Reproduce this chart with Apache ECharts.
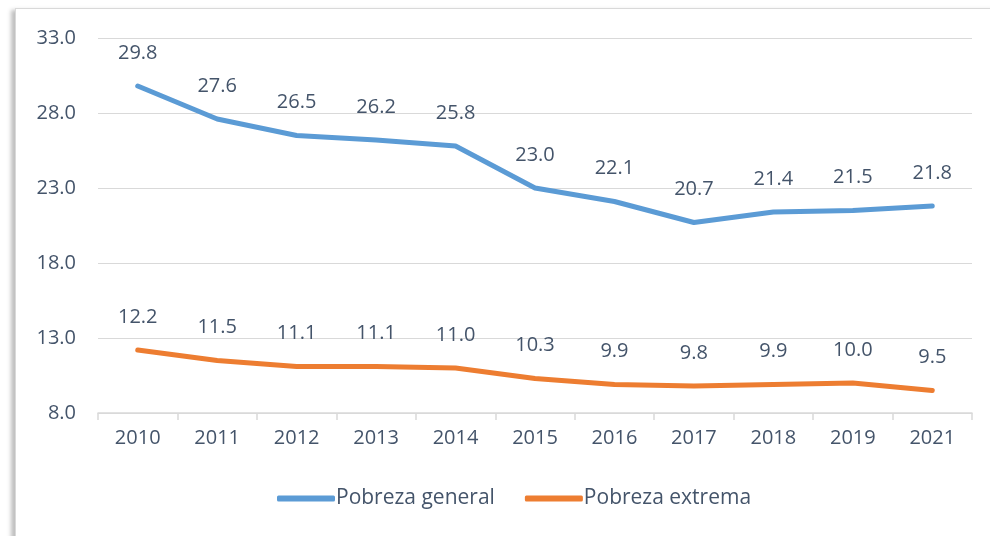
<!DOCTYPE html>
<html>
<head>
<meta charset="utf-8">
<script src="https://cdn.jsdelivr.net/npm/echarts@6/dist/echarts.min.js"></script>
<style>
  html, body { margin: 0; padding: 0; background: #fff; }
  #frame {
    position: absolute; left: 15px; top: 8px; width: 985px; height: 540px;
    border: 1px solid #d9d9d9; box-shadow: -4px 2px 4px rgba(0,0,0,0.25);
    box-sizing: border-box;
  }
  #chart { position: absolute; left: 0; top: 0; width: 990px; height: 536px; }
</style>
</head>
<body>
<div id="frame"></div>
<div id="chart"></div>
<script>
const years = ['2010', '2011', '2012', '2013', '2014', '2015', '2016', '2017', '2018', '2019', '2021'];
const pobrezaGeneral = [29.8, 27.6, 26.5, 26.2, 25.8, 23.0, 22.1, 20.7, 21.4, 21.5, 21.8];
const pobrezaExtrema = [12.2, 11.5, 11.1, 11.1, 11.0, 10.3, 9.9, 9.8, 9.9, 10.0, 9.5];

const textColor = '#44546a';
const font = '"Open Sans", "Noto Sans", sans-serif';
const fontSize = 20;

const chart = echarts.init(document.getElementById('chart'));

const labelStyle = {
  show: true,
  position: 'top',
  distance: 23,
  color: textColor,
  fontSize: fontSize,
  fontFamily: font,
  formatter: (p) => p.value.toFixed(1),
};

const option = {
  animation: false,
  grid: { left: 98, right: 18, top: 38, bottom: 123 },
  legend: {
    bottom: 22,
    left: 272,
    itemWidth: 58,
    itemHeight: 6,
    itemGap: 30,
    icon: 'roundRect',
    textStyle: { color: textColor, fontSize: 21, fontFamily: font, padding: [0, 0, 0, -4] },
    data: ['Pobreza general', 'Pobreza extrema'],
  },
  xAxis: {
    type: 'category',
    data: years,
    boundaryGap: true,
    axisLine: { lineStyle: { color: '#d9d9d9', width: 1.5 } },
    axisTick: { show: true, length: 7, lineStyle: { color: '#d9d9d9', width: 1.5 } },
    axisLabel: { color: textColor, fontSize: fontSize, fontFamily: font, margin: 15 },
  },
  yAxis: {
    type: 'value',
    min: 8,
    max: 33,
    interval: 5,
    axisLine: { show: false },
    axisTick: { show: false },
    axisLabel: { color: textColor, fontSize: fontSize, fontFamily: font, margin: 22, formatter: (v) => v.toFixed(1) },
    splitLine: { lineStyle: { color: '#d9d9d9', width: 1 } },
  },
  series: [
    {
      name: 'Pobreza general',
      type: 'line',
      data: pobrezaGeneral,
      symbol: 'circle',
      symbolSize: 0.1,
      lineStyle: { color: '#5b9bd5', width: 5, cap: 'round', join: 'round' },
      itemStyle: { color: '#5b9bd5' },
      label: labelStyle,
    },
    {
      name: 'Pobreza extrema',
      type: 'line',
      data: pobrezaExtrema,
      symbol: 'circle',
      symbolSize: 0.1,
      lineStyle: { color: '#ed7d31', width: 5, cap: 'round', join: 'round' },
      itemStyle: { color: '#ed7d31' },
      label: labelStyle,
    },
  ],
};

chart.setOption(option, true);
</script>
</body>
</html>
